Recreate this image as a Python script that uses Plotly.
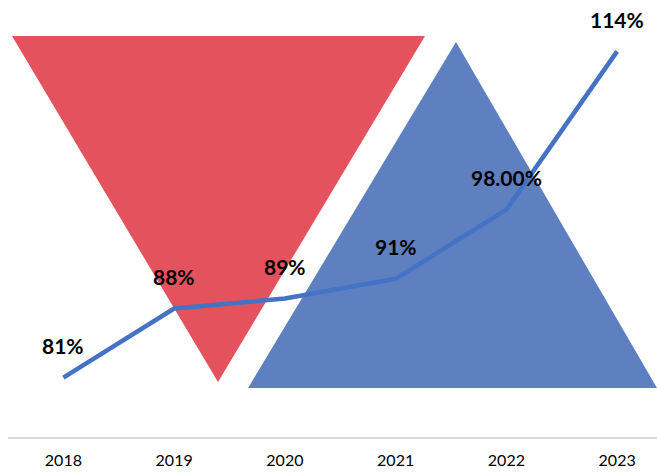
import plotly.graph_objects as go

years = ["2018", "2019", "2020", "2021", "2022", "2023"]
values = [81, 88, 89, 91, 98, 114]
labels = ["81%", "88%", "89%", "91%", "98.00%", "114%"]

W, H = 657, 473
L, R, T, B = 8, 0, 0, 36
pw, ph = W - L - R, H - T - B

def px(x):
    return (x - L) / pw

def py(y):
    return (H - B - y) / ph

def tri(pts):
    return "M " + " L ".join(f"{px(x)},{py(y)}" for x, y in pts) + " Z"

fig = go.Figure()
fig.add_trace(go.Scatter(
    x=years, y=values, mode="lines",
    line=dict(color="#4472C4", width=4.5),
    hoverinfo="skip", showlegend=False,
))
for i, (yv, t) in enumerate(zip(values, labels)):
    fig.add_annotation(x=i, y=yv, xref="x", yref="y", text=f"<b>{t}</b>", showarrow=False,
                       yshift=32, font=dict(family="Lato", size=21, color="#000000"))

fig.update_layout(
    width=W, height=H,
    margin=dict(l=L, r=R, t=T, b=B),
    paper_bgcolor="white", plot_bgcolor="white",
    showlegend=False,
    shapes=[
        dict(type="path", xref="paper", yref="paper", layer="below",
             path=tri([(12, 36), (425, 36), (218, 382)]),
             fillcolor="rgb(228,82,93)", line=dict(width=0)),
        dict(type="path", xref="paper", yref="paper", layer="below",
             path=tri([(456, 42), (248, 388), (657, 388)]),
             fillcolor="rgb(94,128,192)", line=dict(width=0)),
    ],
)
fig.update_xaxes(type="category", range=[-0.5, 5.36], showgrid=False,
                 showline=True, linecolor="#d9d9d9", linewidth=1.5,
                 ticks="", tickfont=dict(family="Lato", size=16, color="#000000"),
                 ticklabelstandoff=8)
fig.update_yaxes(range=[75, 119.2], visible=False, showgrid=False)

fig.write_html("out.html")
